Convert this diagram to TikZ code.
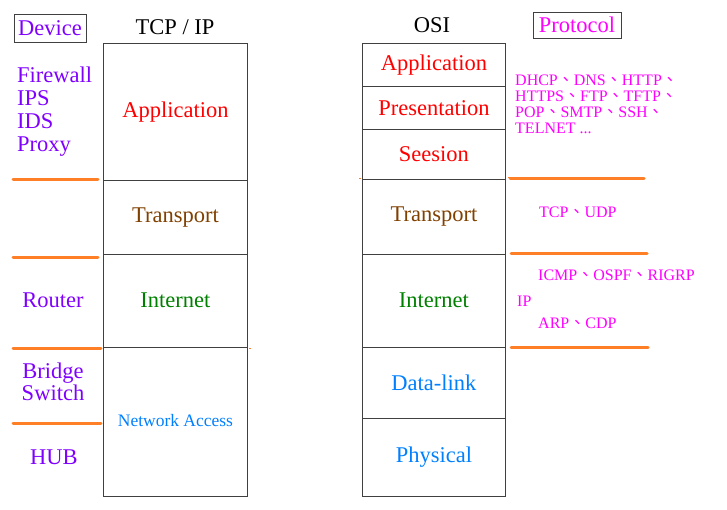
\documentclass[tikz,border=0pt]{standalone}
\usepackage{fontspec}
\setmainfont{Liberation Serif}
\newfontfamily\cjk{Noto Sans CJK TC}
\definecolor{devpurple}{RGB}{128,0,255}
\definecolor{lred}{RGB}{255,0,0}
\definecolor{lbrown}{RGB}{128,64,0}
\definecolor{lgreen}{RGB}{0,128,0}
\definecolor{lblue}{RGB}{0,128,255}
\definecolor{lmag}{RGB}{255,0,255}
\definecolor{lorange}{RGB}{255,127,39}
\definecolor{boxgray}{RGB}{64,64,64}
\newcommand{\dun}{{\cjk\raisebox{0pt}[0.5ex][0pt]{、}}}
\tikzset{
  big/.style={font=\fontsize{22.5}{23}\selectfont, inner sep=0pt},
  layer/.style={draw=boxgray, line width=0.9pt, anchor=north west, inner sep=0pt, big},
  tcplayer/.style={layer, minimum width=144pt},
  osilayer/.style={layer, minimum width=143pt},
  hdrbox/.style={draw=boxgray, line width=0.9pt, big, inner sep=0pt},
  sep/.style={draw=lorange, line width=3pt, line cap=round},
  dotmark/.style={draw=lorange, line width=1pt},
  proto/.style={font=\fontsize{16}{15.5}\selectfont, text=lmag, inner sep=0pt, anchor=west, align=left},
}
\begin{document}
\begin{tikzpicture}[x=1pt,y=-1pt]
\useasboundingbox (0,0) rectangle (727,510);
% headers
\node[hdrbox, minimum width=72pt, minimum height=28pt, text=devpurple] (device) at (50,28) {Device};
\node[big] (tcpip) at (175,27) {TCP / IP};
\node[big] (osi) at (432,25) {OSI};
\node[hdrbox, minimum width=88pt, minimum height=26pt, text=lmag] (protocol) at (577,25) {Protocol};
% TCP/IP stack
\node[tcplayer, minimum height=137pt, text=lred] (tapp) at (103,43) {Application};
\node[tcplayer, minimum height=74pt, text=lbrown] (ttra) at (103,180) {Transport};
\node[tcplayer, minimum height=93pt, text=lgreen] (tint) at (103,254) {\raisebox{2pt}{Internet}};
\node[tcplayer, minimum height=149pt, text=lblue, font=\fontsize{17.5}{18}\selectfont] (tnet) at (103,347) {\raisebox{3pt}{Network Access}};
% OSI stack
\node[osilayer, minimum height=43pt, text=lred] (oapp) at (362,43) {Application};
\node[osilayer, minimum height=43pt, text=lred] (opre) at (362,86) {Presentation};
\node[osilayer, minimum height=50pt, text=lred] (oses) at (362,129) {Seesion};
\node[osilayer, minimum height=75pt, text=lbrown] (otra) at (362,179) {Transport};
\node[osilayer, minimum height=93pt, text=lgreen] (oint) at (362,254) {\raisebox{2pt}{Internet}};
\node[osilayer, minimum height=71pt, text=lblue] (odat) at (362,347) {Data-link};
\node[osilayer, minimum height=78pt, text=lblue] (ophy) at (362,418) {Physical};
% devices
\node[big, text=devpurple, anchor=west, align=left] (fw) at (17,111.5) {Firewall\\IPS\\IDS\\Proxy};
\node[big, text=devpurple] (router) at (53,300) {Router};
\node[big, text=devpurple, align=center, font=\fontsize{22.5}{21.5}\selectfont] (bridge) at (53,382) {Bridge\\Switch};
\node[big, text=devpurple] (hub) at (54,457) {HUB};
% protocols
\node[proto] (pl1) at (515,80) {DHCP\dun DNS\dun HTTP\dun};
\node[proto] (pl2) at (515,96) {HTTPS\dun FTP\dun TFTP\dun};
\node[proto] (pl3) at (515,112) {POP\dun SMTP\dun SSH\dun};
\node[proto] (pl4) at (515,128) {TELNET ...};
\node[proto] (ptra) at (539,212) {TCP\dun UDP};
\node[proto] (picmp) at (538,275) {ICMP\dun OSPF\dun RIGRP};
\node[proto] (pip) at (517,301) {IP};
\node[proto] (parp) at (538,323) {ARP\dun CDP};
% orange separators
\draw[sep] (13,180) -- (98,180);
\draw[sep] (13,258) -- (98,258);
\draw[sep] (13,348) -- (101,348);
\draw[sep] (13,423) -- (101,423);
\draw[sep] (510,178.5) -- (644,178.5);
\draw[sep] (511,253.5) -- (647,253.5);
\draw[sep] (511,347.5) -- (648,347.5);
% small orange marks
\draw[dotmark] (359,179) -- (361,179);
\draw[dotmark] (508,178) -- (510,178);
\draw[dotmark] (249,348) -- (251,348);
\end{tikzpicture}
\end{document}
